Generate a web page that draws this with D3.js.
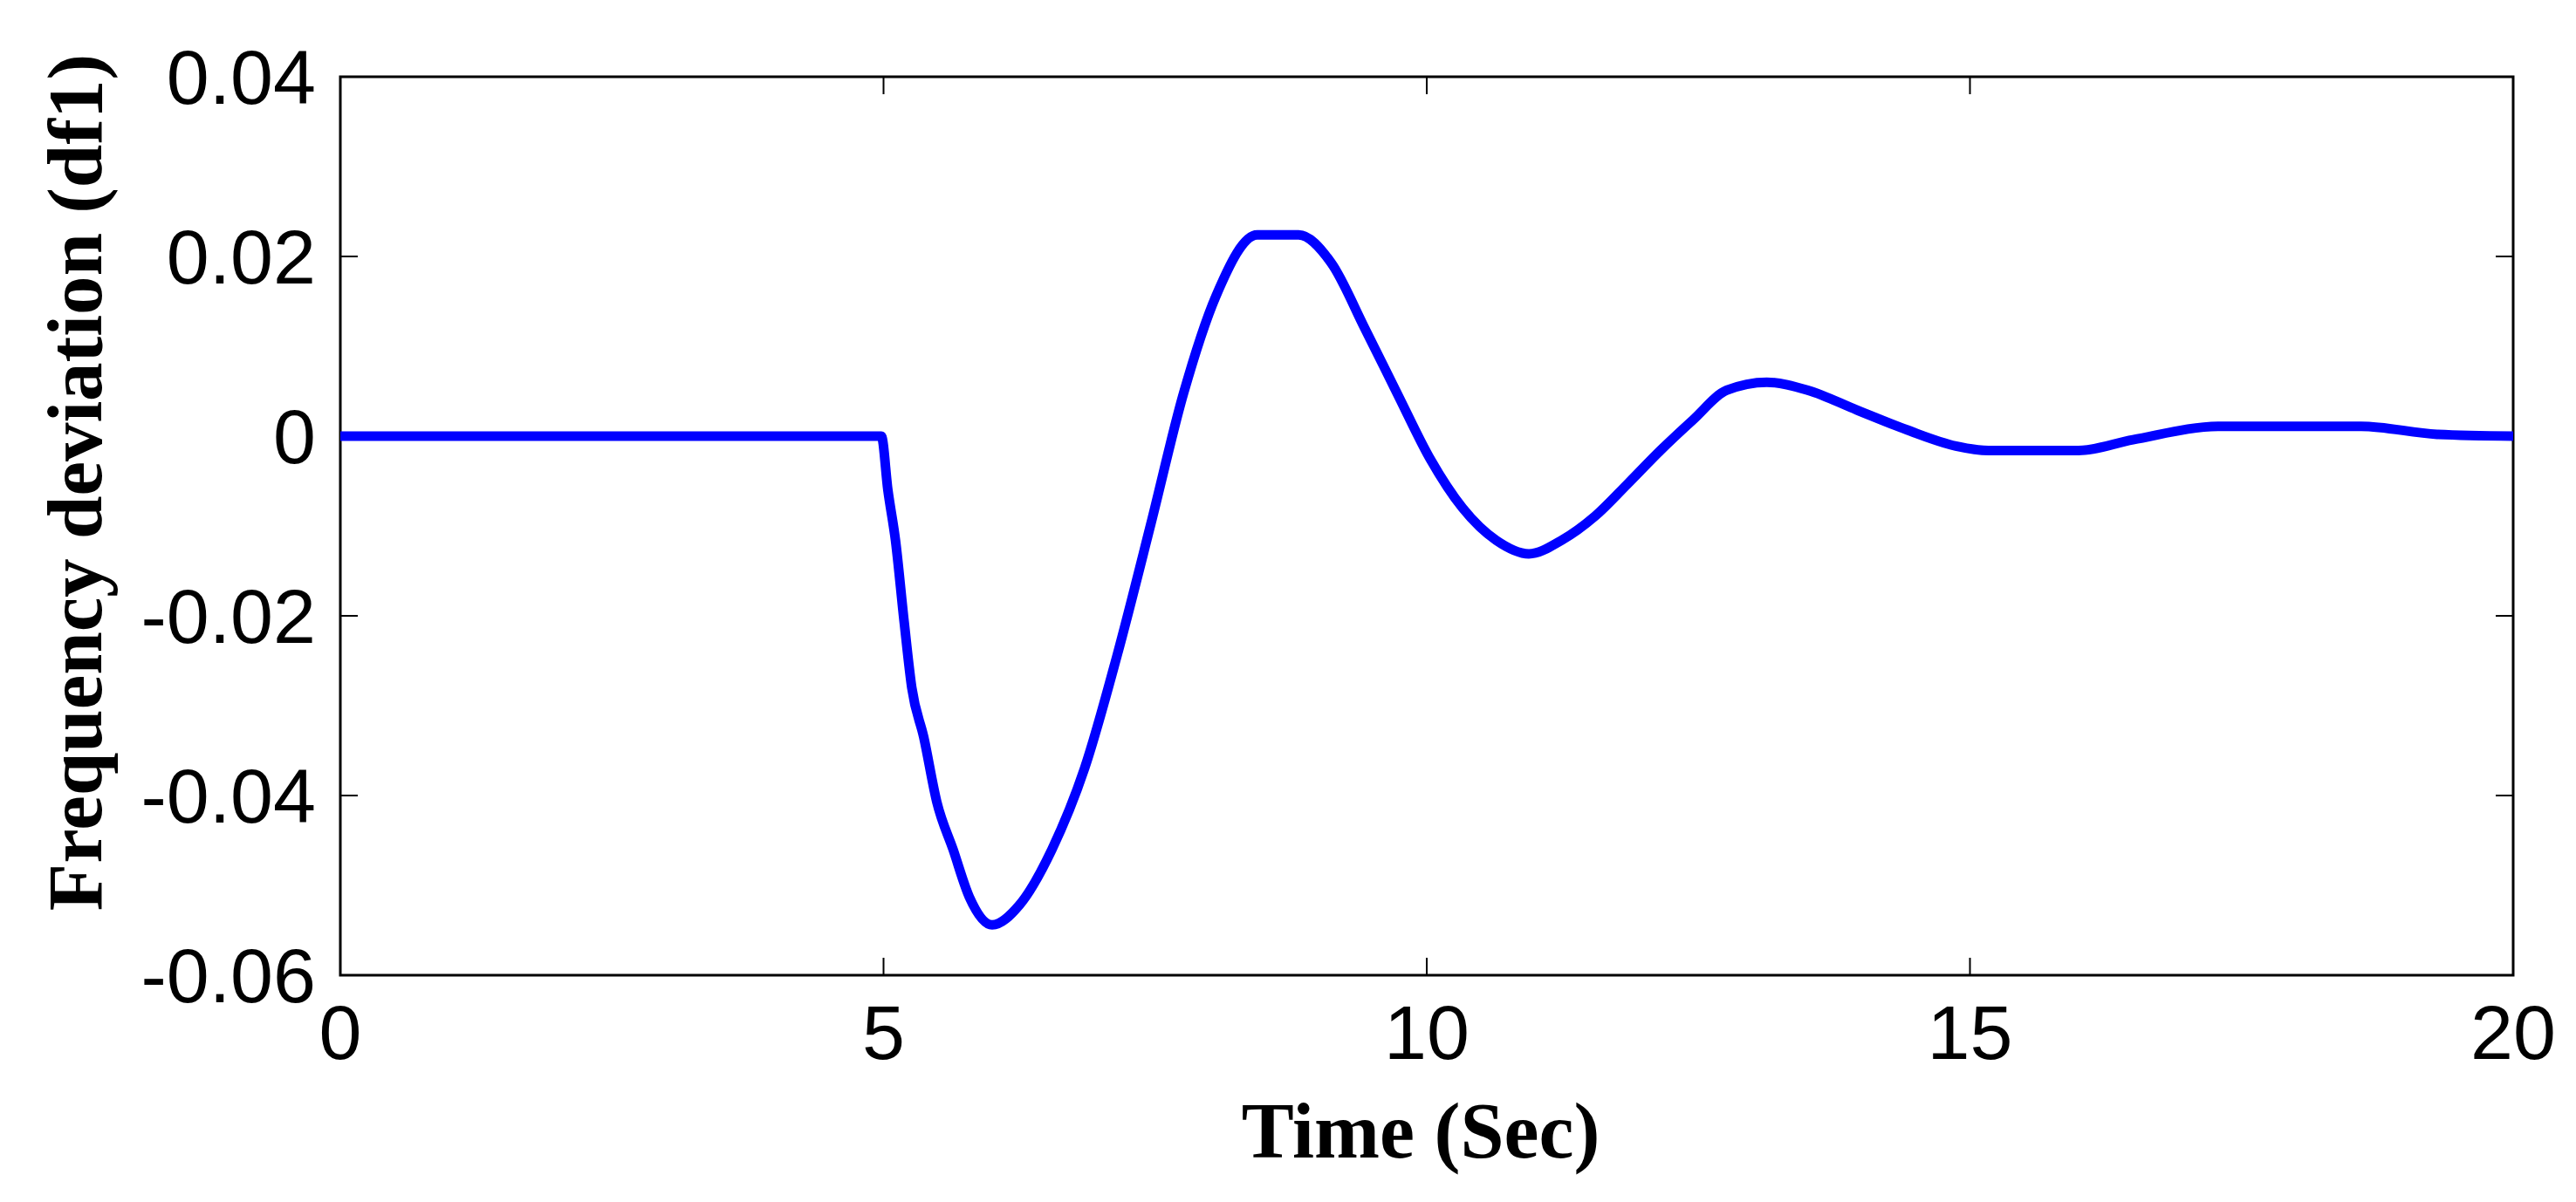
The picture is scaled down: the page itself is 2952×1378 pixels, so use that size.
<!DOCTYPE html>
<html><head><meta charset="utf-8">
<script src="https://cdn.jsdelivr.net/npm/d3@7"></script>
<style>body{margin:0;background:#fff}</style></head>
<body><svg id="c" width="2952" height="1378"></svg>
<script>
const time = [0,4.98,5.04,5.11,5.19,5.26,5.37,5.49,5.64,5.79,6.0,6.25,6.55,6.85,7.15,7.46,7.76,8.06,8.44,8.82,9.12,9.43,9.73,10.03,10.33,10.64,10.94,11.24,11.55,11.85,12.15,12.45,12.76,13.13,13.51,13.96,14.42,14.87,15.17,16.0,16.5,17.3,18.6,19.3,20];
const df1 = [0,0,-0.006,-0.0116,-0.0207,-0.028,-0.0335,-0.0407,-0.046,-0.0513,-0.0544,-0.0522,-0.046,-0.037,-0.0244,-0.0098,0.0047,0.0156,0.0224,0.0224,0.0193,0.012,0.0047,-0.0025,-0.008,-0.0116,-0.0131,-0.0116,-0.0089,-0.0053,-0.0016,0.0018,0.0051,0.006,0.0051,0.0029,0.0007,-0.0011,-0.0016,-0.0016,-0.0004,0.0011,0.0011,0.0002,0];
const xTicks = [0,5,10,15,20];
const yTicks = [-0.06,-0.04,-0.02,0,0.02,0.04];
const yTickLabels = ["-0.06","-0.04","-0.02","0","0.02","0.04"];

const L=390,R=2880,T=88,B=1118;
const svg=d3.select("#c");
const x=d3.scaleLinear().domain([0,20]).range([L,R]);
const y=d3.scaleLinear().domain([-0.06,0.04]).range([B,T]);
const tk=20;
svg.append("rect").attr("x",L).attr("y",T).attr("width",R-L).attr("height",B-T).attr("fill","none").attr("stroke","#000").attr("stroke-width",3);
const g=svg.append("g");
xTicks.forEach(v=>{
  g.append("line").attr("x1",x(v)).attr("x2",x(v)).attr("y1",B).attr("y2",B-tk).attr("stroke","#000").attr("stroke-width",2);
  g.append("line").attr("x1",x(v)).attr("x2",x(v)).attr("y1",T).attr("y2",T+tk).attr("stroke","#000").attr("stroke-width",2);
  g.append("text").attr("x",x(v)).attr("y",1214).attr("text-anchor","middle").attr("font-family","Liberation Sans, Arial").attr("font-size",88).text(v);
});
yTicks.forEach((v,i)=>{
  g.append("line").attr("x1",L).attr("x2",L+tk).attr("y1",y(v)).attr("y2",y(v)).attr("stroke","#000").attr("stroke-width",2);
  g.append("line").attr("x1",R).attr("x2",R-tk).attr("y1",y(v)).attr("y2",y(v)).attr("stroke","#000").attr("stroke-width",2);
  g.append("text").attr("x",362).attr("y",y(v)+31).attr("text-anchor","end").attr("font-family","Liberation Sans, Arial").attr("font-size",88).text(yTickLabels[i]);
});
const pts=time.map((t,i)=>[t,df1[i]]);
svg.append("path").datum(pts).attr("fill","none").attr("stroke","#0000ff").attr("stroke-width",11).attr("stroke-linejoin","round")
 .attr("d",d3.line().x(d=>x(d[0])).y(d=>y(d[1])).curve(d3.curveMonotoneX));
svg.append("text").attr("x",1628).attr("y",1327).attr("text-anchor","middle").attr("font-family","Liberation Serif, Times New Roman").attr("font-weight","bold").attr("font-size",90).text("Time (Sec)");
svg.append("text").attr("transform","translate(116,553) rotate(-90)").attr("text-anchor","middle").attr("font-family","Liberation Serif, Times New Roman").attr("font-weight","bold").attr("font-size",89).text("Frequency deviation (df1)");
</script></body></html>
